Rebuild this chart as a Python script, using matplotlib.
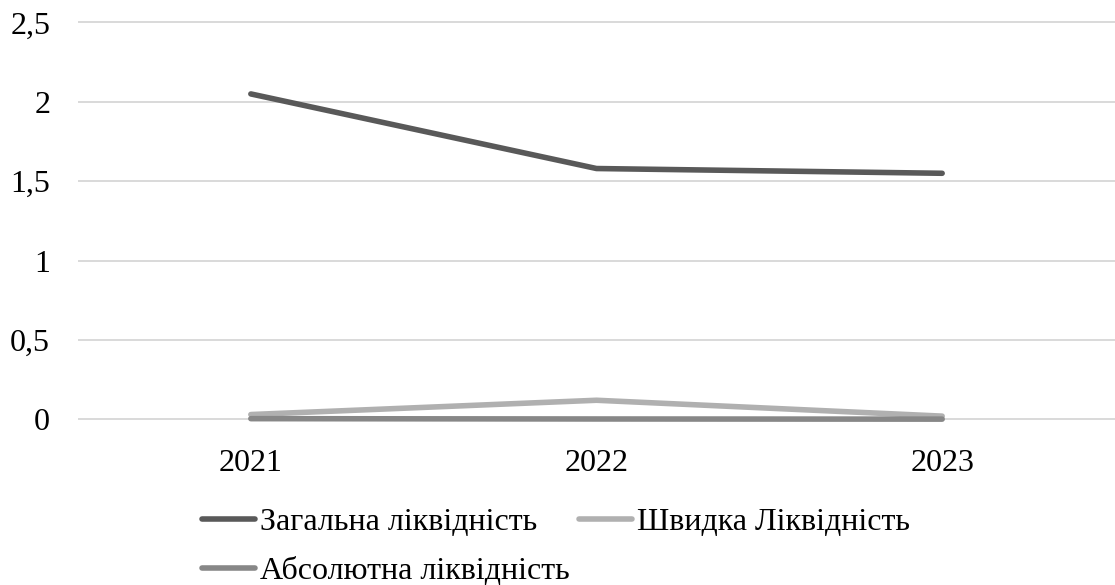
import matplotlib
matplotlib.use("Agg")
import matplotlib.pyplot as plt
from matplotlib.ticker import FuncFormatter

years = ["2021", "2022", "2023"]
zagalna = [2.05, 1.58, 1.55]
shvydka = [0.03, 0.12, 0.02]
absoliutna = [0.004, 0.002, 0.001]
y_ticks = [0, 0.5, 1, 1.5, 2, 2.5]

plt.rcParams["font.family"] = ["Liberation Serif", "DejaVu Serif"]
FS = 23

# pixel geometry of the plotting area (value 0 at y0, value 2.5 at y25)
W, H = 1115, 585
y0, y25 = 419.3, 22.5
ppu = (y0 - y25) / 2.5
lo, hi = -0.03, 2.53
bottom_px = y0 + (0 - lo) * ppu
top_px = y25 - (hi - 2.5) * ppu

fig = plt.figure(figsize=(W / 100, H / 100), dpi=100)
ax = fig.add_axes([78 / W, 1 - bottom_px / H, 1 - 78 / W, (bottom_px - top_px) / H])

x = list(range(len(years)))
style = dict(lw=4.0, solid_capstyle="round", solid_joinstyle="round")
l1, = ax.plot(x, zagalna, color="#595959", label="Загальна ліквідність", zorder=3, **style)
l2, = ax.plot(x, shvydka, color="#b0b0b0", label="Швидка Ліквідність", zorder=3, **style)
l3, = ax.plot(x, absoliutna, color="#878787", label="Абсолютна ліквідність", zorder=4, **style)

ax.set_xlim(-0.5, len(years) - 0.5)
ax.set_ylim(lo, hi)
ax.set_xticks(x)
ax.set_xticklabels(years)
ax.set_yticks(y_ticks)
ax.yaxis.set_major_formatter(FuncFormatter(lambda v, p: f"{v:g}".replace(".", ",")))

ax.grid(axis="y", color="#d9d9d9", lw=1.4)
ax.set_axisbelow(True)
for s in ax.spines.values():
    s.set_visible(False)
ax.tick_params(axis="both", length=0, labelsize=FS)
ax.tick_params(axis="y", pad=20)
ax.tick_params(axis="x", pad=18)

fig.legend(handles=[l1, l3, l2], loc="center", bbox_to_anchor=(0.4987, 0.065),
           ncol=2, frameon=False, fontsize=FS, handlelength=1.65,
           handletextpad=0.15, columnspacing=0.3, labelspacing=0.6,
           borderpad=0, borderaxespad=0)

fig.savefig("out.png", dpi=100)
